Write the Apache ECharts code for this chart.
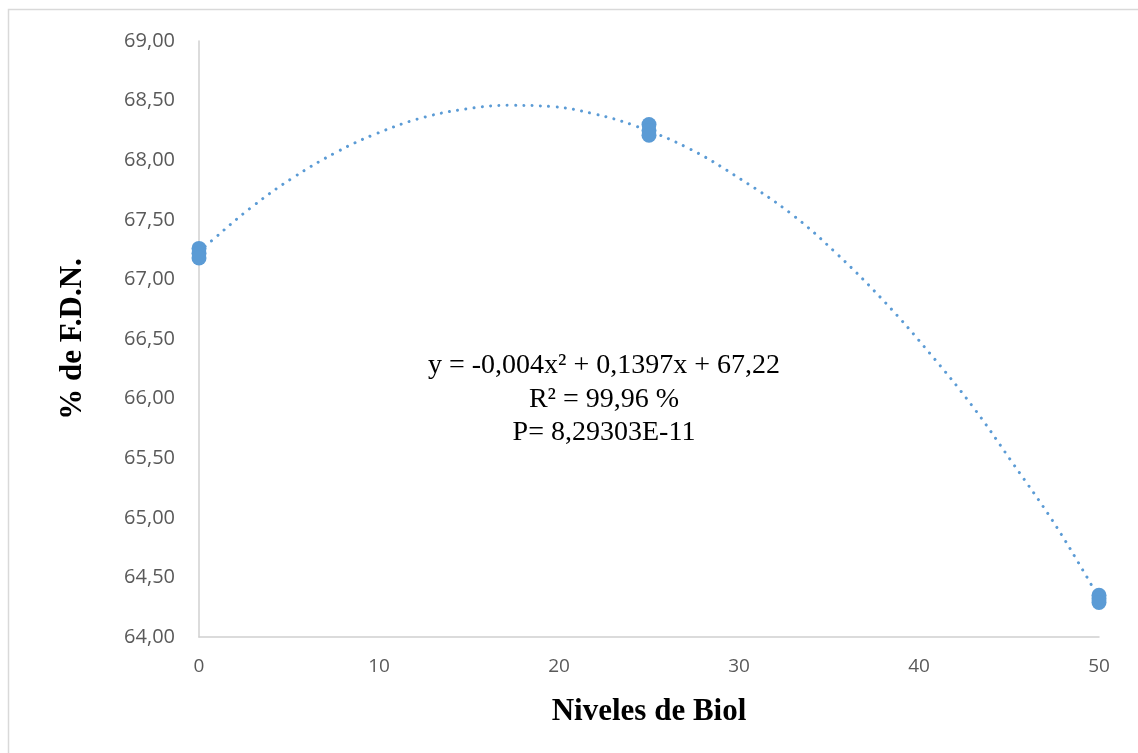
<!DOCTYPE html>
<html>
<head>
<meta charset="utf-8">
<script src="https://cdn.jsdelivr.net/npm/echarts@6/dist/echarts.min.js"></script>
<style>
html,body{margin:0;padding:0;background:#fff;}
#chart{width:1138px;height:753px;}
</style>
</head>
<body>
<div id="chart"></div>
<script>
// Observed data (replicates per level)
var levelsX = [0, 0, 0, 25, 25, 25, 50, 50, 50];
var fdnValues = [67.26, 67.22, 67.18, 68.30, 68.25, 68.21, 64.35, 64.32, 64.29];

// Trendline
var trendX = [0, 0.67, 2.87, 5.19, 7.67, 9.81, 12.5, 15.3, 17.2, 19.6, 21.9, 24.2, 27.2, 30.1, 32.9, 35.4, 38.1, 40.6, 43.0, 45.2, 47.4, 49.3, 50];
var trendY = [67.23, 67.32, 67.60, 67.85, 68.07, 68.22, 68.36, 68.44, 68.46, 68.45, 68.39, 68.29, 68.10, 67.84, 67.55, 67.22, 66.81, 66.38, 65.93, 65.46, 64.98, 64.51, 64.32];

// Axis ticks
var xTicks = [0, 10, 20, 30, 40, 50];
var yTicks = [64, 64.5, 65, 65.5, 66, 66.5, 67, 67.5, 68, 68.5, 69];

var annotationLines = ['y = -0,004x² + 0,1397x + 67,22', 'R² = 99,96 %', 'P= 8,29303E-11'];

var chart = echarts.init(document.getElementById('chart'));
var scatterData = levelsX.map(function (x, i) { return [x, fdnValues[i]]; });
var trendData = trendX.map(function (x, i) { return [x, trendY[i]]; });

var annotationGraphics = annotationLines.map(function (line, i) {
  return {
    type: 'text', x: 604, y: 366 + i * 33.5, silent: true,
    style: {
      text: line,
      font: '28px "Liberation Serif"',
      fill: '#000',
      align: 'center',
      verticalAlign: 'middle'
    }
  };
});

chart.setOption({
  animation: false,
  backgroundColor: '#fff',
  grid: { left: 199, right: 39, top: 41, bottom: 116, containLabel: false },
  xAxis: {
    type: 'value',
    min: xTicks[0], max: xTicks[xTicks.length - 1], interval: 10,
    name: 'Niveles de Biol',
    nameLocation: 'middle',
    nameGap: 59,
    nameTextStyle: { fontFamily: 'Liberation Serif', fontWeight: 'bold', fontSize: 31, color: '#000' },
    axisLine: { show: true, onZero: false, lineStyle: { color: '#d0d0d0', width: 1.5 } },
    axisTick: { show: false },
    splitLine: { show: false },
    axisLabel: { fontFamily: 'Open Sans', fontSize: 19, color: '#595959', margin: 20 }
  },
  yAxis: {
    type: 'value',
    min: yTicks[0], max: yTicks[yTicks.length - 1], interval: 0.5,
    name: '% de F.D.N.',
    nameLocation: 'middle',
    nameGap: 111,
    nameRotate: 90,
    nameTextStyle: { fontFamily: 'Liberation Serif', fontWeight: 'bold', fontSize: 31, color: '#000' },
    axisLine: { show: true, lineStyle: { color: '#d0d0d0', width: 1.5 } },
    axisTick: { show: false },
    splitLine: { show: false },
    axisLabel: {
      fontFamily: 'Open Sans', fontSize: 20, color: '#595959', margin: 24,
      formatter: function (v) { return v.toFixed(2).replace('.', ','); }
    }
  },
  graphic: [
    {
      type: 'rect', silent: true, z: -1,
      shape: { x: 8.5, y: 9.5, width: 1200, height: 800 },
      style: { fill: 'none', stroke: '#d9d9d9', lineWidth: 1.5 }
    }
  ].concat(annotationGraphics),
  series: [
    {
      type: 'line',
      data: trendData,
      smooth: 0.4,
      symbol: 'none',
      z: 2,
      lineStyle: { color: '#5b9bd5', width: 3, type: [0.01, 8.3], cap: 'round' }
    },
    {
      type: 'scatter',
      data: scatterData,
      symbol: 'circle',
      symbolSize: 15,
      z: 3,
      itemStyle: { color: '#5b9bd5', opacity: 1 }
    }
  ]
});
</script>
</body>
</html>
